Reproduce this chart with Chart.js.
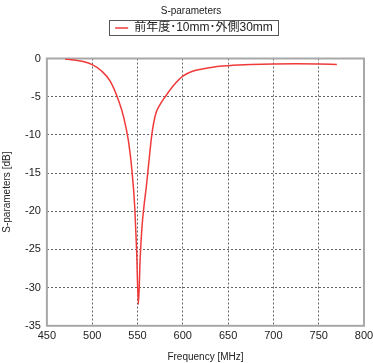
<!DOCTYPE html>
<html>
<head>
<meta charset="utf-8">
<script src="https://cdn.jsdelivr.net/npm/chart.js@4.4.1/dist/chart.umd.min.js"></script>
<style>
  html, body { margin: 0; padding: 0; background: #fff; }
  #wrap { width: 373px; height: 363px; }
</style>
</head>
<body>
<div id="wrap"><canvas id="sparamChart" width="373" height="363"></canvas></div>
<script>
// frequency points (MHz) and S-parameter values (dB)
const frequencies = [470, 480, 490, 500, 510, 520, 530, 535, 540, 544, 547, 549, 551, 553, 555, 557, 560, 563, 566, 570, 575, 580, 590, 600, 610, 620, 635, 650, 675, 700, 725, 750, 770];
const sValues = [-0.05, -0.2, -0.4, -0.8, -1.6, -3.0, -5.8, -7.8, -10.8, -14.8, -19.5, -25, -32.2, -26, -22, -19.5, -16.5, -13, -9.8, -7.3, -6.0, -5.1, -3.5, -2.3, -1.7, -1.4, -1.1, -0.95, -0.8, -0.72, -0.7, -0.72, -0.78];
const seriesLabel = '前年度･10mm･外側30mm';
const xTicks = [450, 500, 550, 600, 650, 700, 750, 800];
const yTicks = [0, -5, -10, -15, -20, -25, -30, -35];

const fontFamily = '"Liberation Sans", Arial, "Noto Sans CJK JP", sans-serif';

// nudges title and legend a little to the right, legend up
const headerShift = {
    id: 'headerShift',
    afterLayout(chart) {
        const lg = chart.legend;
        lg.left += 7; lg.right += 7;
        lg.top -= 14.5; lg.bottom -= 14.5;
        const t = chart.titleBlock;
        if (t) { t.left += 4; t.right += 4; }
    }
};

// draws the gray frame round the plot area
const frameBox = {
    id: 'frameBox',
    beforeDatasetsDraw(chart) {
        const a = chart.chartArea;
        const ctx = chart.ctx;
        ctx.save();
        ctx.strokeStyle = '#a8a8a8';
        ctx.lineWidth = 2;
        ctx.strokeRect(a.left, a.top, a.right - a.left, a.bottom - a.top);
        ctx.restore();
    }
};

// draws a thin box round the legend item
const legendBox = {
    id: 'legendBox',
    afterDraw(chart) {
        const boxes = chart.legend.legendHitBoxes;
        if (!boxes || !boxes.length) return;
        const b = boxes[0];
        const ctx = chart.ctx;
        ctx.save();
        ctx.strokeStyle = '#555';
        ctx.lineWidth = 1;
        ctx.strokeRect(Math.round(b.left) - 5.5, Math.round(b.top) - 1.5, Math.round(b.width) + 11, Math.round(b.height) + 3);
        ctx.restore();
    }
};

const points = frequencies.map((f, i) => ({ x: f, y: sValues[i] }));

const ctx = document.getElementById('sparamChart').getContext('2d');
const sparamChart = new Chart(ctx, {
    type: 'line',
    data: {
        datasets: [{
            label: seriesLabel,
            data: points,
            borderColor: '#f03a3a',
            backgroundColor: '#f03a3a',
            borderWidth: 1.5,
            pointRadius: 0,
            cubicInterpolationMode: 'monotone',
            fill: false
        }]
    },
    options: {
        responsive: false,
        animation: false,
        layout: { padding: { left: 1, right: 0, top: 4, bottom: 0 } },
        plugins: {
            title: {
                display: true,
                text: 'S-parameters',
                color: '#222',
                font: { family: fontFamily, size: 10, weight: 'normal' },
                padding: { top: 1, bottom: 0 }
            },
            legend: {
                display: true,
                labels: {
                    usePointStyle: true,
                    pointStyle: 'line',
                    pointStyleWidth: 13,
                    color: '#222',
                    font: { family: fontFamily, size: 12 },
                    padding: 19.5
                }
            },
            tooltip: { enabled: false }
        },
        scales: {
            x: {
                type: 'linear',
                min: 450,
                max: 800,
                afterBuildTicks: axis => { axis.ticks = xTicks.map(v => ({ value: v })); },
                afterFit: axis => { axis.paddingRight = 9; },
                ticks: { color: '#222', font: { family: fontFamily, size: 11 }, padding: 4, maxRotation: 0 },
                grid: { color: '#666', lineWidth: 1, drawTicks: false },
                border: { display: false, dash: [2, 2] },
                title: { display: true, text: 'Frequency [MHz]', color: '#222', font: { family: fontFamily, size: 10 }, padding: { top: 4, bottom: 0 } }
            },
            y: {
                min: -35,
                max: 0,
                afterBuildTicks: axis => { axis.ticks = yTicks.map(v => ({ value: v })); },
                ticks: { color: '#222', font: { family: fontFamily, size: 11 }, padding: 6 },
                grid: { color: '#666', lineWidth: 1, drawTicks: false },
                border: { display: false, dash: [2, 2] },
                title: { display: true, text: 'S-parameters [dB]', color: '#222', font: { family: fontFamily, size: 10 }, padding: { top: 0, bottom: 6 } }
            }
        }
    },
    plugins: [headerShift, frameBox, legendBox]
});
</script>
</body>
</html>
